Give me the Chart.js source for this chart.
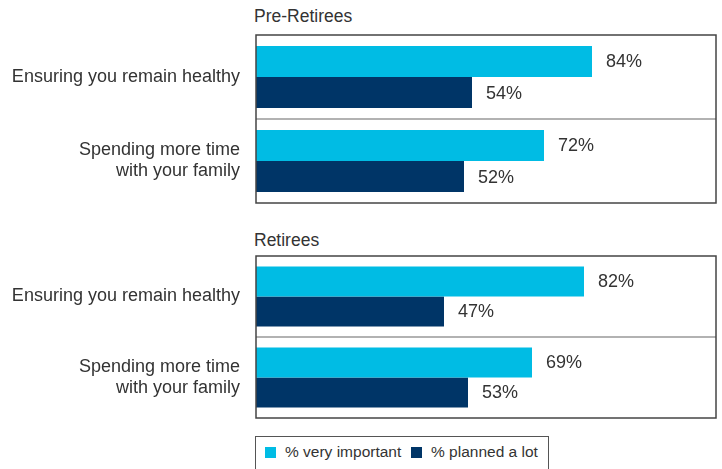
<!DOCTYPE html>
<html>
<head>
<meta charset="utf-8">
<script src="https://cdn.jsdelivr.net/npm/chart.js@4.4.0/dist/chart.umd.min.js"></script>
<style>
  body { margin: 0; background: #fff; font-family: "Liberation Sans", Arial, sans-serif; color: #333; }
  #wrap { position: relative; width: 722px; height: 469px; overflow: hidden; }
  .title { position: absolute; left: 254px; font-size: 17.5px; color: #333; }
  .panel { position: absolute; left: 0; width: 722px; height: 180px; }
  #legend { position: absolute; left: 255px; top: 436px; width: 294px; height: 40px; border: 1px solid #555;
            box-sizing: border-box; font-size: 15.5px; color: #333; }
  #legend span.item { position: absolute; top: 6px; white-space: nowrap; }
  #legend i { display: inline-block; width: 11px; height: 11px; margin-right: 9px; vertical-align: -1px; }
</style>
</head>
<body>
<div id="wrap">
  <div class="title" style="top:6px">Pre-Retirees</div>
  <div class="panel" style="top:30px"><canvas id="pre"></canvas></div>
  <div class="title" style="top:230px">Retirees</div>
  <div class="panel" style="top:251px"><canvas id="ret"></canvas></div>
  <div id="legend"></div>
</div>
<script>
// Datos
const categorias = [["Ensuring you remain healthy"], ["Spending more time", "with your family"]];
const series = ["% very important", "% planned a lot"];
const colores = ["#00bce4", "#003567"];
const preImportante = [84, 72];
const prePlaneado = [54, 52];
const retImportante = [82, 69];
const retPlaneado = [47, 53];

const fuente = "'Liberation Sans', Arial, sans-serif";

// Etiquetas al final de las barras
const etiquetas = {
  id: "etiquetas",
  afterDatasetsDraw(chart) {
    const ctx = chart.ctx;
    ctx.save();
    ctx.font = "18px " + fuente;
    ctx.fillStyle = "#333";
    ctx.textBaseline = "middle";
    chart.data.datasets.forEach((ds, i) => {
      chart.getDatasetMeta(i).data.forEach((bar, j) => {
        ctx.fillText(ds.data[j] + "%", bar.x + 14, bar.y + 1);
      });
    });
    ctx.restore();
  },
};

// Caja y separadores
const caja = {
  id: "caja",
  afterDraw(chart) {
    const { ctx, chartArea: a } = chart;
    const y = chart.scales.y;
    ctx.save();
    ctx.strokeStyle = "#999";
    ctx.lineWidth = 1.5;
    for (let k = 1; k < chart.data.labels.length; k++) {
      const yy = (y.getPixelForValue(k - 1) + y.getPixelForValue(k)) / 2;
      ctx.beginPath();
      ctx.moveTo(a.left, yy);
      ctx.lineTo(a.right, yy);
      ctx.stroke();
    }
    ctx.strokeStyle = "#444";
    ctx.strokeRect(a.left, a.top, a.right - a.left, a.bottom - a.top);
    ctx.restore();
  },
};

function crearGrafico(id, importante, planeado, padBottom) {
  return new Chart(document.getElementById(id), {
    type: "bar",
    data: {
      labels: categorias,
      datasets: [
        { label: series[0], data: importante, backgroundColor: colores[0] },
        { label: series[1], data: planeado, backgroundColor: colores[1] },
      ],
    },
    options: {
      indexAxis: "y",
      responsive: true,
      maintainAspectRatio: false,
      animation: false,
      layout: { padding: { top: 5, bottom: padBottom, right: 6, left: 0 } },
      datasets: { bar: { barPercentage: 1, categoryPercentage: 0.74 } },
      scales: {
        x: { display: false, min: 0, max: 115 },
        y: {
          grid: { display: false, drawTicks: false },
          border: { display: false },
          ticks: { color: "#333", padding: 16, font: { size: 18, family: fuente, lineHeight: 1.17 } },
          afterFit(scale) {
            scale.width = 256;
            scale.paddingTop = 0;
            scale.paddingBottom = 0;
          },
        },
      },
      plugins: { legend: { display: false }, tooltip: { enabled: false } },
    },
    plugins: [etiquetas, caja],
  });
}

crearGrafico("pre", preImportante, prePlaneado, 7);
crearGrafico("ret", retImportante, retPlaneado, 13);

// Leyenda
const leyenda = document.getElementById("legend");
const posiciones = [9, 155];
series.forEach((s, i) => {
  const el = document.createElement("span");
  el.className = "item";
  el.style.left = posiciones[i] + "px";
  el.innerHTML = `<i style="background:${colores[i]}"></i>${s}`;
  leyenda.appendChild(el);
});
</script>
</body>
</html>
